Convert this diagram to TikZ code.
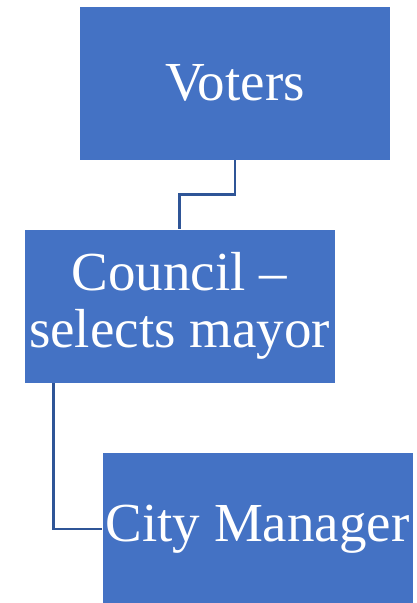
\documentclass[tikz,border=0pt]{standalone}
\usepackage{fontspec}
\setmainfont{Liberation Serif}
\usepackage{tikz}
\usetikzlibrary{positioning}
\definecolor{boxblue}{RGB}{68,114,196}
\definecolor{lineblue}{RGB}{47,85,151}

\begin{document}
\begin{tikzpicture}
[x=1pt,y=1pt,
conn/.style={draw=lineblue,line width=2.6pt}, % connector style
every node/.style={rectangle,fill=boxblue,draw=white,line width=0.8pt,
  text=white,align=center,minimum width=311pt,minimum height=154pt,
  font=\fontsize{55}{57}\selectfont}]
\useasboundingbox (0,0) rectangle (416,-603);
\node (voters) at (235,-83) {Voters};
\node (council) at (179.5,-306) {Council –\\selects mayor};
\node (manager) at (257.5,-529) {City Manager};
\draw[conn] (voters.south) -- ++(0,-34) -| (council.north);
\draw[conn] ([xshift=30pt]council.south west) |- (manager.west);
\end{tikzpicture}
\end{document}
